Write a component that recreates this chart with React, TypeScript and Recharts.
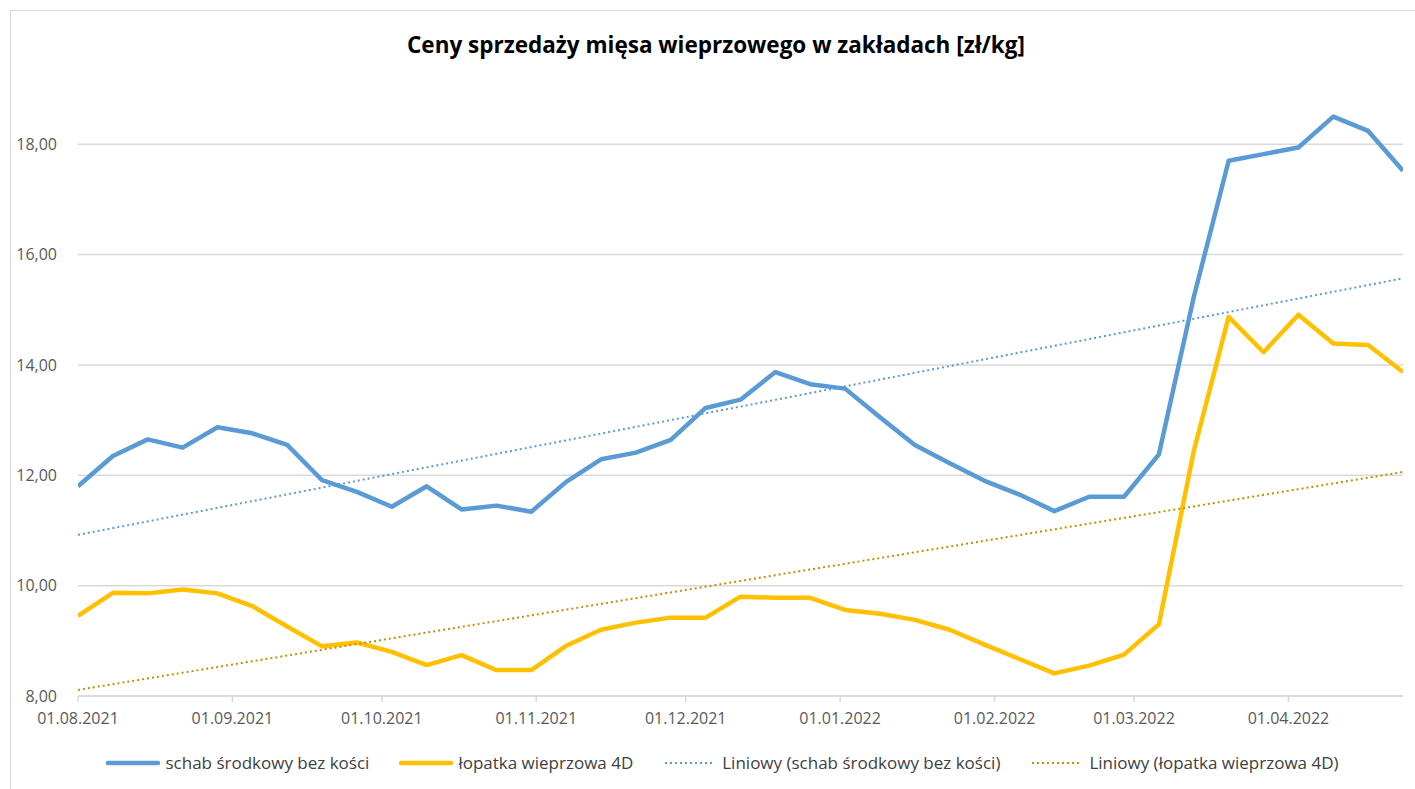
import React from "react";
import { LineChart, Line, XAxis, YAxis, CartesianGrid } from "recharts";

// weekly quotation dates (Sundays)
const dates = [
  "2021-08-01", "2021-08-08", "2021-08-15", "2021-08-22", "2021-08-29",
  "2021-09-05", "2021-09-12", "2021-09-19", "2021-09-26",
  "2021-10-03", "2021-10-10", "2021-10-17", "2021-10-24", "2021-10-31",
  "2021-11-07", "2021-11-14", "2021-11-21", "2021-11-28",
  "2021-12-05", "2021-12-12", "2021-12-19", "2021-12-26",
  "2022-01-02", "2022-01-09", "2022-01-16", "2022-01-23", "2022-01-30",
  "2022-02-06", "2022-02-13", "2022-02-20", "2022-02-27",
  "2022-03-06", "2022-03-13", "2022-03-20", "2022-03-27",
  "2022-04-03", "2022-04-10", "2022-04-17", "2022-04-24",
];

const schab = [
  11.8, 12.35, 12.65, 12.5, 12.87, 12.76, 12.55, 11.91, 11.7, 11.43,
  11.8, 11.38, 11.45, 11.34, 11.88, 12.29, 12.41, 12.64, 13.22, 13.37,
  13.87, 13.65, 13.57, 13.05, 12.55, 12.22, 11.9, 11.65, 11.35, 11.61,
  11.61, 12.38, 15.23, 17.7, 17.82, 17.94, 18.5, 18.24, 17.52,
];

const lopatka = [
  9.45, 9.87, 9.86, 9.93, 9.86, 9.63, 9.26, 8.9, 8.97, 8.8,
  8.56, 8.74, 8.47, 8.47, 8.91, 9.2, 9.33, 9.42, 9.42, 9.8,
  9.78, 9.78, 9.56, 9.49, 9.38, 9.2, 8.93, 8.67, 8.41, 8.55,
  8.75, 9.3, 12.44, 14.87, 14.23, 14.91, 14.39, 14.36, 13.87,
];

// trendline end values (first and last date)
const schabTrend = [10.92, 15.57];
const lopatkaTrend = [8.11, 12.06];

const xTicks = [
  "2021-08-01", "2021-09-01", "2021-10-01", "2021-11-01", "2021-12-01",
  "2022-01-01", "2022-02-01", "2022-03-01", "2022-04-01",
];
const yTicks = [8, 10, 12, 14, 16, 18];

const toTime = (s: string) => Date.parse(s + "T00:00:00Z");

const chartData = dates.map((d, i) => ({
  t: toTime(d),
  schab: schab[i],
  lopatka: lopatka[i],
}));

const first = toTime(dates[0]);
const last = toTime(dates[dates.length - 1]);
const schabTrendData = [
  { t: first, v: schabTrend[0] },
  { t: last, v: schabTrend[1] },
];
const lopatkaTrendData = [
  { t: first, v: lopatkaTrend[0] },
  { t: last, v: lopatkaTrend[1] },
];

const BLUE = "#5B9BD5";
const YELLOW = "#FFC000";
const GOLD = "#BF9000";
const FONT = "'Open Sans', sans-serif";

const fmtDate = (t: number) => {
  const d = new Date(t);
  const dd = String(d.getUTCDate()).padStart(2, "0");
  const mm = String(d.getUTCMonth() + 1).padStart(2, "0");
  return `${dd}.${mm}.${d.getUTCFullYear()}`;
};

const legendItems = [
  { label: "schab środkowy bez kości", color: BLUE, dotted: false },
  { label: "łopatka wieprzowa 4D", color: YELLOW, dotted: false },
  { label: "Liniowy (schab środkowy bez kości)", color: BLUE, dotted: true },
  { label: "Liniowy (łopatka wieprzowa 4D)", color: GOLD, dotted: true },
];

function ChartLegend() {
  return (
    <div
      style={{
        position: "absolute",
        left: 0,
        top: 751,
        width: 1415,
        display: "flex",
        justifyContent: "center",
        gap: 30,
        paddingLeft: 30,
        boxSizing: "border-box",
        fontFamily: FONT,
        fontSize: 17,
        color: "#404040",
      }}
    >
      {legendItems.map((it) => (
        <div key={it.label} style={{ display: "flex", alignItems: "center" }}>
          <svg width={54} height={10} style={{ marginRight: 5 }}>
            {it.dotted ? (
              <line x1={2} y1={5} x2={52} y2={5} stroke={it.color} strokeWidth={2} strokeDasharray="2 3" />
            ) : (
              <line x1={2} y1={5} x2={52} y2={5} stroke={it.color} strokeWidth={4.5} strokeLinecap="round" />
            )}
          </svg>
          <span>{it.label}</span>
        </div>
      ))}
    </div>
  );
}

export default function App() {
  return (
    <div
      style={{
        position: "absolute",
        left: 0,
        top: 0,
        width: 1415,
        height: 789,
        background: "#fff",
        overflow: "hidden",
      }}
    >
      <div
        style={{
          position: "absolute",
          left: 10,
          top: 10,
          width: 1500,
          height: 900,
          borderTop: "1.5px solid #d9d9d9",
          borderLeft: "1.5px solid #d9d9d9",
        }}
      />
      <div
        style={{
          position: "absolute",
          left: 0,
          top: 29,
          width: 1432,
          textAlign: "center",
          fontFamily: FONT,
          fontWeight: 700,
          fontSize: 22.5,
          color: "#000",
        }}
      >
        Ceny sprzedaży mięsa wieprzowego w zakładach [zł/kg]
      </div>
      <LineChart
        width={1415}
        height={789}
        data={chartData}
        margin={{ top: 89, right: 12, bottom: 63, left: 0 }}
        style={{ position: "absolute", left: 0, top: 0 }}
      >
        <CartesianGrid vertical={false} horizontalValues={yTicks} stroke="#d9d9d9" strokeWidth={1.5} />
        <XAxis
          dataKey="t"
          type="number"
          scale="time"
          domain={[first, last]}
          ticks={xTicks.map(toTime)}
          tickFormatter={fmtDate}
          height={30}
          stroke="#d9d9d9"
          strokeWidth={1.5}
          tickSize={6}
          tickMargin={11}
          tick={{ fill: "#595959", fontSize: 16, fontFamily: FONT }}
          allowDataOverflow
        />
        <YAxis
          type="number"
          domain={[8, 19]}
          ticks={yTicks}
          width={78}
          axisLine={false}
          tickLine={false}
          tickMargin={15}
          tickFormatter={(v: number) => v.toFixed(2).replace(".", ",")}
          tick={{ fill: "#595959", fontSize: 16, fontFamily: FONT }}
        />
        <Line
          dataKey="schab"
          stroke={BLUE}
          strokeWidth={4.5}
          strokeLinejoin="round"
          dot={false}
          isAnimationActive={false}
        />
        <Line
          dataKey="lopatka"
          stroke={YELLOW}
          strokeWidth={4.5}
          strokeLinejoin="round"
          dot={false}
          isAnimationActive={false}
        />
        <Line
          data={schabTrendData}
          dataKey="v"
          stroke={BLUE}
          strokeWidth={2}
          strokeDasharray="2 3"
          dot={false}
          isAnimationActive={false}
        />
        <Line
          data={lopatkaTrendData}
          dataKey="v"
          stroke={GOLD}
          strokeWidth={2}
          strokeDasharray="2 3"
          dot={false}
          isAnimationActive={false}
        />
      </LineChart>
      <ChartLegend />
    </div>
  );
}
